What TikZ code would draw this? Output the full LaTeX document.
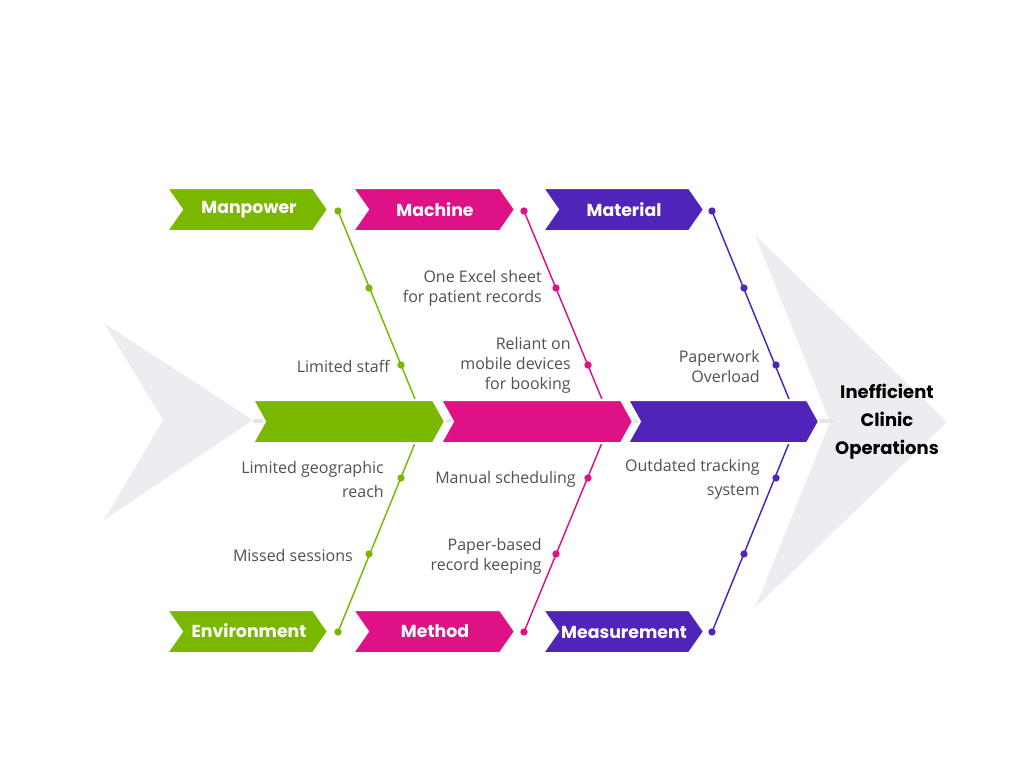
\documentclass[tikz,border=0pt]{standalone}
\usepackage{fontspec}
\setmainfont{Open Sans}
\newfontfamily\headfont{Poppins}
\usetikzlibrary{positioning}
\definecolor{manpower}{HTML}{7AB800}
\definecolor{machine}{HTML}{DE1187}
\definecolor{material}{HTML}{5024B8}
\definecolor{arrowgrey}{HTML}{EBEDF0}
\definecolor{spineline}{HTML}{E2E6EB}
\definecolor{note}{HTML}{505050}
\def\chevron[#1](#2,#3)(#4:#5:#6)% Syntax: [fill options] (left,top) (width:height:tip depth)
    { \filldraw[#1,draw=white,line width=1.5pt] (#2,#3) -- ++({#4-#6},0) -- ++(#6,{#5/2}) -- ++(-#6,{#5/2}) -- ++({-#4+#6},0) -- ++(#6,{-#5/2}) -- cycle; }

\begin{document}
\begin{tikzpicture}[x=0.75pt,y=-0.75pt,
    head/.style={font=\headfont\bfseries\fontsize{13}{16}\selectfont,text=white,inner sep=0pt},
    cause/.style={font=\fontsize{12}{15}\selectfont,text=note,align=right,anchor=east,inner sep=0pt},
    wide/.style={font=\fontsize{12}{18}\selectfont},
    dot/.style={circle,inner sep=0pt,minimum size=5.5pt},
    bone/.style={line width=1.1pt}]
      \useasboundingbox (0,0) rectangle (1024,768);

      %BIG ARROWS
      \fill[arrowgrey] (104,323) -- (253,420) -- (104,520) -- (163,420) -- cycle; %tail
      \fill[arrowgrey] (755,235) -- (947,422) -- (755,608) -- (830,422) -- cycle; %head
      \draw[spineline,line width=2.5pt] (253,421) -- (835,421); %spine line

      %BONES
      \coordinate (mpj) at (424,421); %joints on spine
      \coordinate (mcj) at (611,421);
      \coordinate (mtj) at (798,421);
      \node[dot,fill=manpower] (mp0) at (338,211) {}; %top ends
      \node[dot,fill=machine] (mc0) at (524,211) {};
      \node[dot,fill=material] (mt0) at (712,211) {};
      \node[dot,fill=manpower] (en0) at (338,632) {}; %bottom ends
      \node[dot,fill=machine] (me0) at (524,632) {};
      \node[dot,fill=material] (ms0) at (712,632) {};
      \draw[bone,manpower] (mp0.center) -- (mpj) -- (en0.center);
      \draw[bone,machine] (mc0.center) -- (mcj) -- (me0.center);
      \draw[bone,material] (mt0.center) -- (mtj) -- (ms0.center);

      \node[dot,fill=manpower] (mp1) at (369,288) {}; %dots on bones
      \node[dot,fill=manpower] (mp2) at (401,365) {};
      \node[dot,fill=manpower] (en1) at (401,478) {};
      \node[dot,fill=manpower] (en2) at (369,554) {};
      \node[dot,fill=machine] (mc1) at (556,288) {};
      \node[dot,fill=machine] (mc2) at (588,365) {};
      \node[dot,fill=machine] (me1) at (588,478) {};
      \node[dot,fill=machine] (me2) at (556,554) {};
      \node[dot,fill=material] (mt1) at (744,288) {};
      \node[dot,fill=material] (mt2) at (776,365) {};
      \node[dot,fill=material] (ms1) at (776,478) {};
      \node[dot,fill=material] (ms2) at (744,554) {};

      %SPINE
      \chevron[manpower](253,400)(192:43:12);
      \chevron[machine](441,400)(192:43:12);
      \chevron[material](628,400)(191:43:12);

      %CATEGORY BOXES
      \chevron[manpower](167,188)(161:43:15);
      \chevron[machine](353,188)(162:43:15);
      \chevron[material](543,188)(161:43:15);
      \chevron[manpower](167,610)(161:43:15);
      \chevron[machine](353,610)(162:43:15);
      \chevron[material](543,610)(161:43:15);
      \node[head] (manpower) at (249,210) {Manpower};
      \node[head] (machine) at (435,210) {Machine};
      \node[head] (material) at (624,210) {Material};
      \node[head] (environment) at (249,631) {Environment};
      \node[head] (method) at (435,631) {Method};
      \node[head] (measurement) at (624,632) {Measurement};

      %CAUSES
      \node[cause] (staff) at (390,366) {Limited staff};
      \node[cause,wide] (reach) at (384,479) {Limited geographic\\reach};
      \node[cause] (missed) at (353,555) {Missed sessions};
      \node[cause] (excel) at (542,288) {One Excel sheet\\for patient records};
      \node[cause] (mobile) at (571,365) {Reliant on\\mobile devices\\for booking};
      \node[cause] (manual) at (576,479) {Manual scheduling};
      \node[cause] (paper) at (542,556) {Paper-based\\record keeping};
      \node[cause] (overload) at (760,366) {Paperwork\\Overload};
      \node[cause,wide] (tracking) at (760,479) {Outdated tracking\\system};

      %EFFECT
      \node[font=\headfont\bfseries\fontsize{13.5}{21}\selectfont,align=center,inner sep=0pt] (effect) at (887,422) {Inefficient\\Clinic\\Operations};
\end{tikzpicture}
\end{document}
